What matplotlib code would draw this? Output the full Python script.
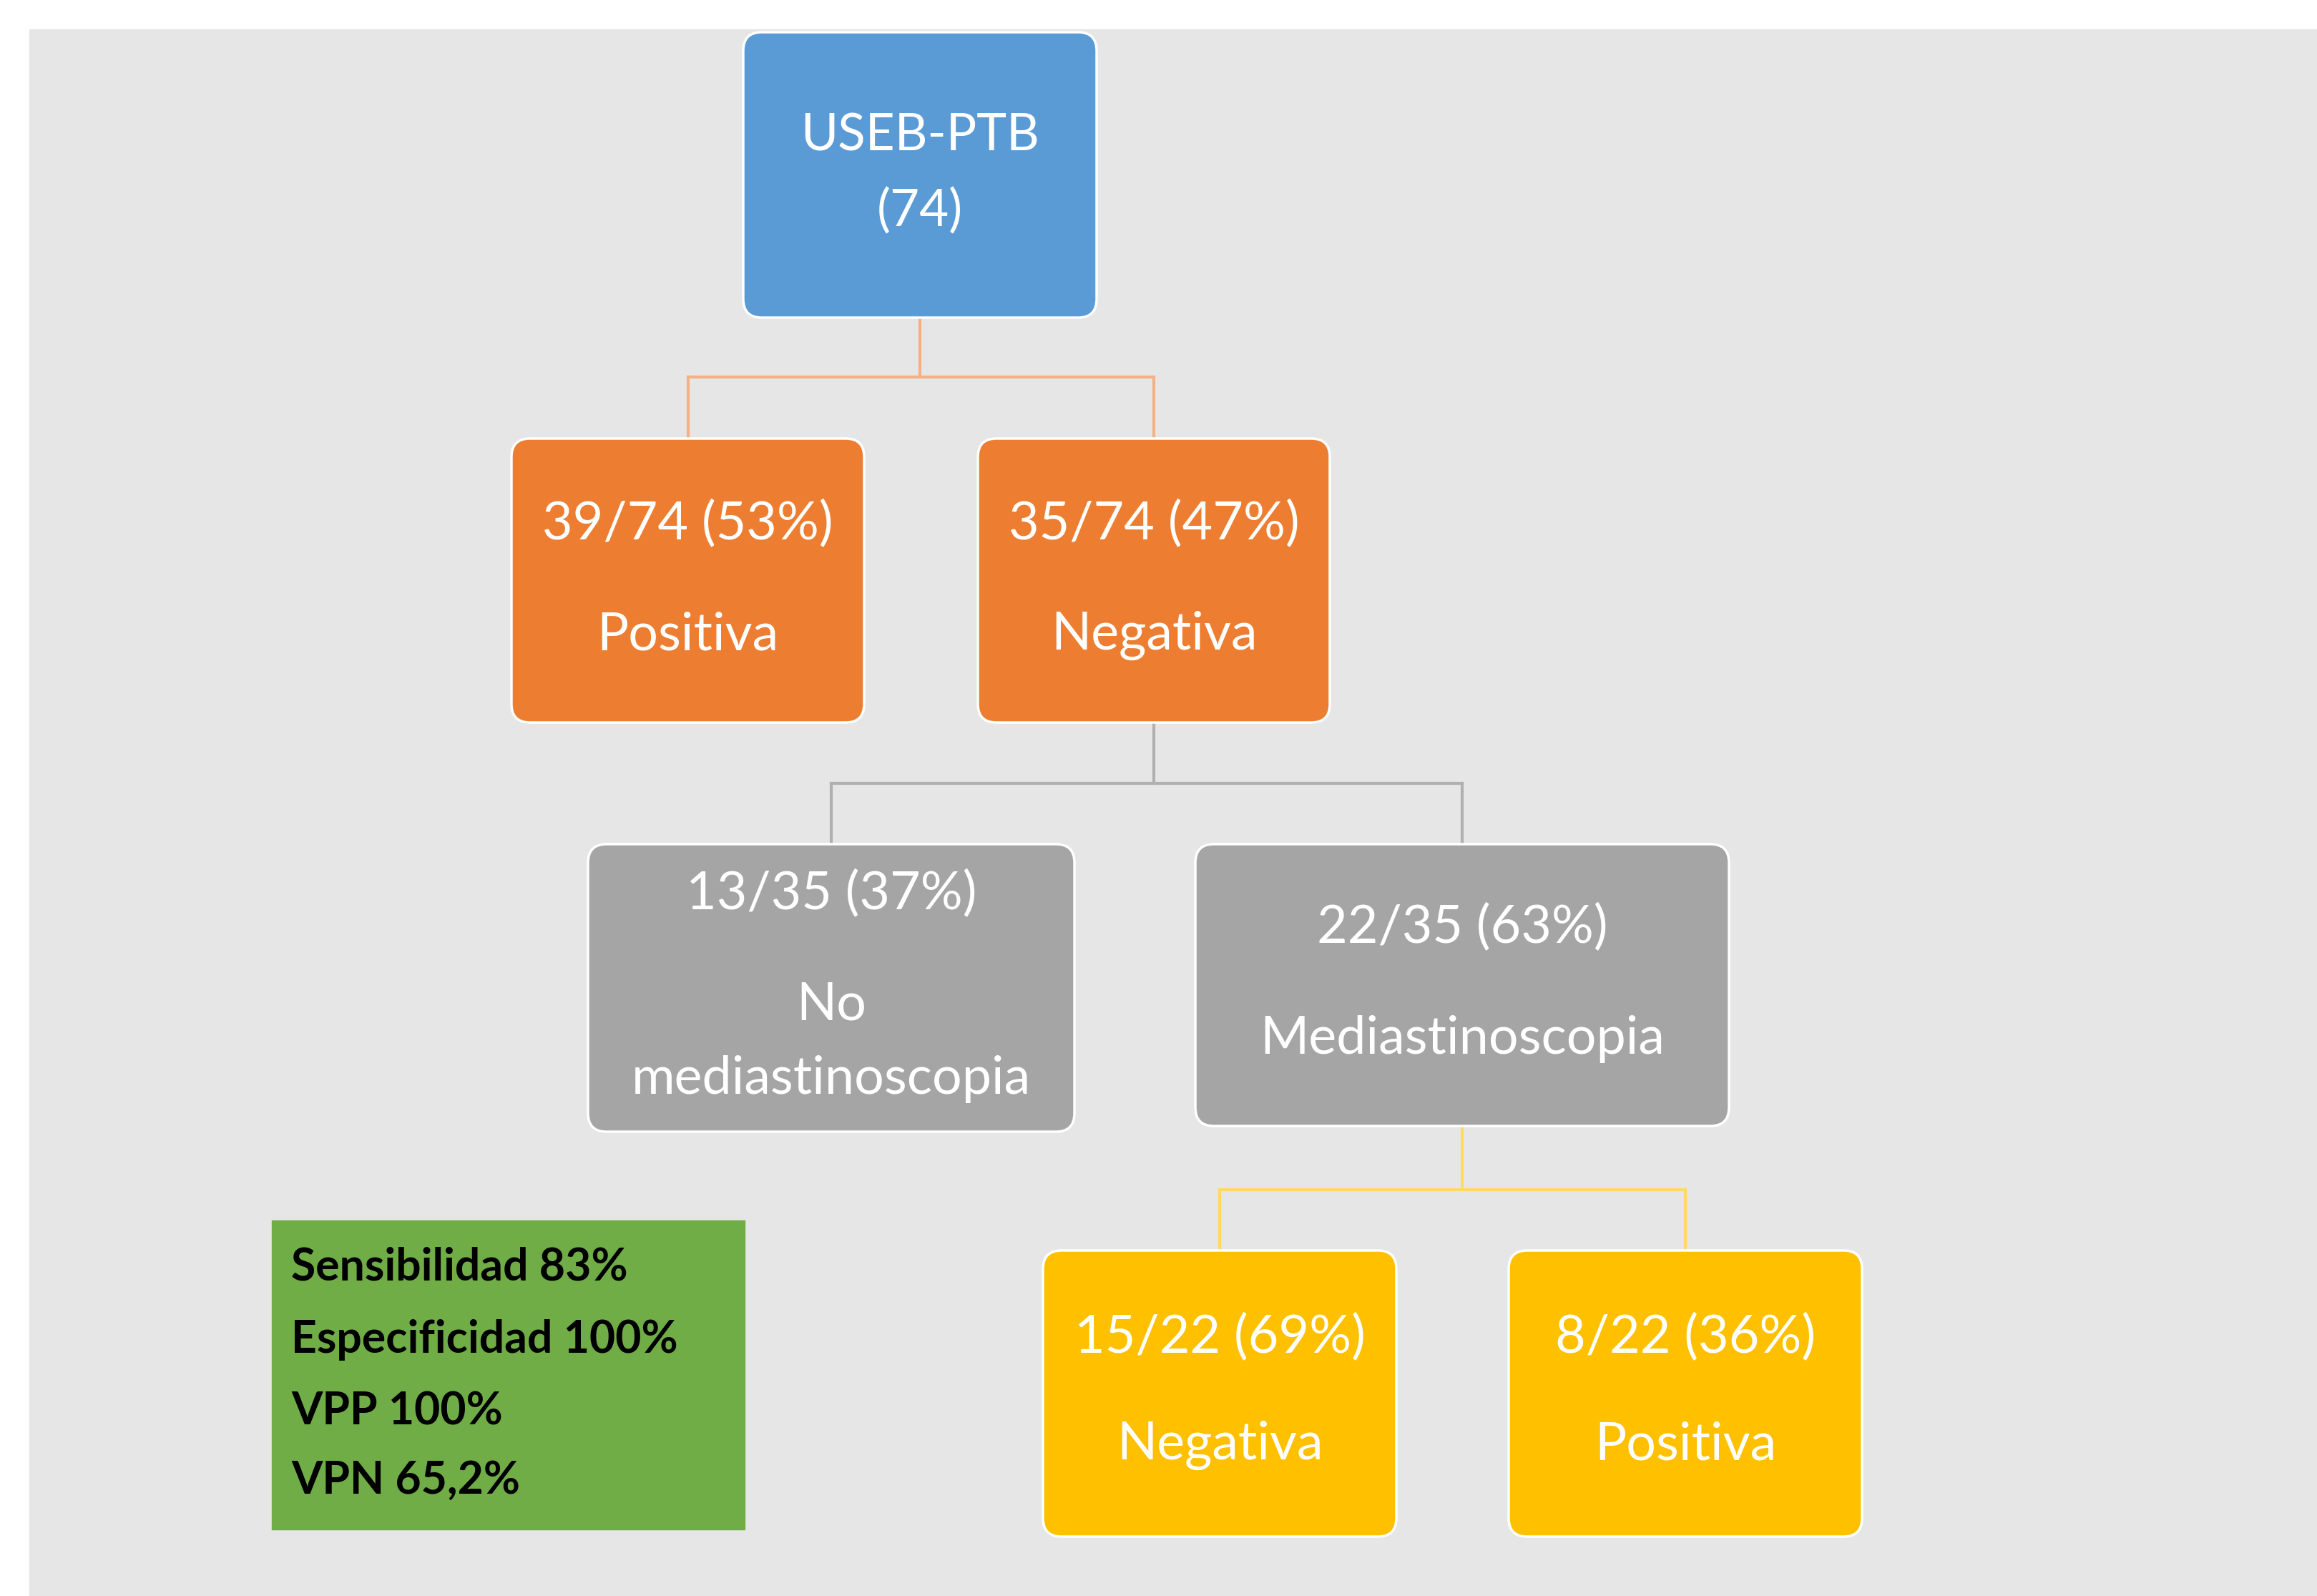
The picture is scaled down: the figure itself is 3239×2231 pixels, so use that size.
import matplotlib
matplotlib.use('Agg')
import matplotlib.pyplot as plt
from matplotlib.patches import FancyBboxPatch, Rectangle

plt.rcParams['font.family'] = ['Lato', 'DejaVu Sans']

# node labels (data)
root_label = ['USEB-PTB', '(74)']
lvl1_labels = [['39/74 (53%)', 'Positiva'], ['35/74 (47%)', 'Negativa']]
lvl2_labels = [['13/35 (37%)', 'No', 'mediastinoscopia'], ['22/35 (63%)', 'Mediastinoscopia']]
lvl3_labels = [['15/22 (69%)', 'Negativa'], ['8/22 (36%)', 'Positiva']]
stats_lines = ['Sensibilidad 83%', 'Especificidad 100%', 'VPP 100%', 'VPN 65,2%']

# layout in pixel coordinates (x0, x1, y0, y1)
root_box = (1039, 1533, 45, 444)
lvl1_boxes = [(715, 1208, 613, 1010), (1367, 1859, 613, 1010)]
lvl2_boxes = [(822, 1502, 1180, 1582), (1671, 2417, 1180, 1574)]
lvl3_boxes = [(1458, 1952, 1748, 2148), (2109, 2603, 1748, 2148)]
stats_box = (380, 1041, 1706, 2138)

blue, orange, grey, yellow, green = '#5B9BD5', '#ED7D31', '#A5A5A5', '#FFC000', '#70AD47'

W, H = 3239, 2231
fig = plt.figure(figsize=(W / 100, H / 100), dpi=100)
ax = fig.add_axes([0, 0, 1, 1])
ax.set_xlim(0, W)
ax.set_ylim(H, 0)
ax.axis('off')

ax.add_patch(Rectangle((41, 41), W - 41, H - 41, color='#E7E6E6', zorder=0))


def box(b, color, lines, ys, size=53):
    x0, x1, y0, y1 = b
    r = 26
    ax.add_patch(FancyBboxPatch((x0 + r, y0 + r), x1 - x0 - 2 * r, y1 - y0 - 2 * r,
                                boxstyle='round,pad=%d' % r, fc=color, ec='white', lw=2.5, zorder=3))
    cx = (x0 + x1) / 2
    for t, y in zip(lines, ys):
        ax.text(cx, y, t, color='white', fontsize=size, ha='center', va='center', zorder=4)


def connect(parent, children, ymid, color):
    px = (parent[0] + parent[1]) / 2
    ax.plot([px, px], [parent[3], ymid], color=color, lw=3, zorder=2)
    cxs = [(c[0] + c[1]) / 2 for c in children]
    ax.plot([min(cxs), max(cxs)], [ymid, ymid], color=color, lw=3, zorder=2)
    for c, cx in zip(children, cxs):
        ax.plot([cx, cx], [ymid, c[2]], color=color, lw=3, zorder=2)


connect(root_box, lvl1_boxes, 527, '#F4B183')
connect(lvl1_boxes[1], lvl2_boxes, 1095, '#B0B0B0')
connect(lvl2_boxes[1], lvl3_boxes, 1663, '#FFD966')

box(root_box, blue, root_label, [190, 295], size=51)
for b, lab in zip(lvl1_boxes, lvl1_labels):
    box(b, orange, lab, [733, 888])
box(lvl2_boxes[0], grey, lvl2_labels[0], [1250, 1405, 1508])
box(lvl2_boxes[1], grey, lvl2_labels[1], [1297, 1452])
for b, lab in zip(lvl3_boxes, lvl3_labels):
    box(b, yellow, lab, [1870, 2020])

x0, x1, y0, y1 = stats_box
ax.add_patch(Rectangle((x0, y0), x1 - x0, y1 - y0, color=green, zorder=3))
for t, y in zip(stats_lines, [1772, 1873, 1973, 2070]):
    ax.text(407, y, t, color='black', fontsize=45, fontweight='bold', ha='left', va='center', zorder=4)

fig.savefig('out.png', dpi=100, facecolor='white')
